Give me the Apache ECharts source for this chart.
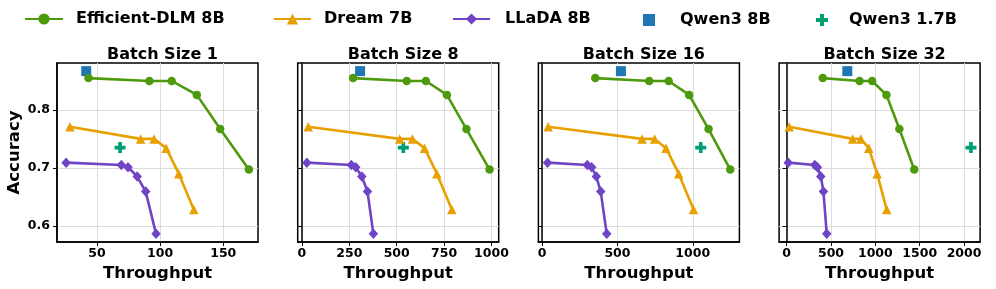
<!DOCTYPE html>
<html><head><meta charset="utf-8">
<script src="https://cdn.jsdelivr.net/npm/echarts@6/dist/echarts.min.js"></script>
<style>html,body{margin:0;padding:0;background:#fff}#c{width:996px;height:289px}</style>
</head><body><div id="c"></div>
<script>
// ---- data ----
const batchTitles = ['Batch Size 1', 'Batch Size 8', 'Batch Size 16', 'Batch Size 32'];
const seriesNames = ['Efficient-DLM 8B', 'Dream 7B', 'LLaDA 8B', 'Qwen3 8B', 'Qwen3 1.7B'];

// accuracy (same across batch sizes)
const accEfficient = [0.855, 0.850, 0.850, 0.826, 0.767, 0.697];
const accDream = [0.771, 0.750, 0.750, 0.734, 0.690, 0.628];
const accLLaDA = [0.709, 0.705, 0.701, 0.685, 0.659, 0.586];
const accQwen8 = [0.867];
const accQwen17 = [0.735];

// throughput per batch size
const thrEfficient = [
  [43.3, 91.5, 109.2, 129.1, 147.6, 170.3],
  [270, 553, 654, 765, 868, 990],
  [353, 711, 840, 976, 1105, 1249],
  [407, 822, 964, 1125, 1271, 1439]
];
const thrDream = [
  [28.6, 84.6, 95.2, 104.8, 114.8, 126.7],
  [33, 516, 583, 647, 712, 791],
  [40, 663, 747, 823, 907, 1005],
  [29, 744, 837, 926, 1020, 1128]
];
const thrLLaDA = [
  [25.6, 69.3, 74.6, 81.9, 88.6, 96.8],
  [26, 261, 284, 316, 346, 377],
  [36, 300, 329, 360, 389, 429],
  [18, 317, 347, 385, 415, 452]
];
const thrQwen8 = [[41.5], [307], [523], [684]];
const thrQwen17 = [[68.3], [535], [1053], [2078]];

// tick labels
const xTicks = [[50, 100, 150], [0, 250, 500, 750, 1000], [0, 500, 1000], [0, 500, 1000, 1500, 2000]];
const yTicks = [0.6, 0.7, 0.8];

// ---- style ----
const FONT = 'DejaVu Sans';
const colors = ['#4e9a0e', '#e8a000', '#6f45c6', '#1f77b4', '#009e73'];
const plusPath = 'path://M1,0H2V1H3V2H2V3H1V2H0V1H1Z';

function pair(xs, ys) { return xs.map((x, i) => [x, ys[i]]); }
function padRange(vals) {
  const mn = Math.min(...vals), mx = Math.max(...vals), d = (mx - mn) * 0.05;
  return [mn - d, mx + d];
}
const yRange = padRange([...accEfficient, ...accDream, ...accLLaDA, ...accQwen8, ...accQwen17]);

const grids = [], xAxes = [], yAxes = [], series = [], titles = [];
const GL = 57, GSTEP = 240.7, GW = 201, GT = 63, GH = 179;
for (let i = 0; i < 4; i++) {
  const left = GL + i * GSTEP;
  grids.push({ left: left, top: GT, width: GW, height: GH, show: true, borderColor: '#000', borderWidth: 1.5, outerBoundsMode: 'none' });
  titles.push({ text: batchTitles[i], left: left + GW / 2, top: 42, textAlign: 'center',
    textStyle: { fontFamily: FONT, fontWeight: 'bold', fontSize: 16, color: '#000' } });
  const xr = padRange([...thrEfficient[i], ...thrDream[i], ...thrLLaDA[i], ...thrQwen8[i], ...thrQwen17[i]]);
  xAxes.push({
    gridIndex: i, type: 'value', min: xr[0], max: xr[1],
    name: 'Throughput', nameLocation: 'middle', nameGap: 21,
    nameTextStyle: { fontFamily: FONT, fontWeight: 'bold', fontSize: 16.5, color: '#000' },
    axisLine: { show: true, lineStyle: { color: '#000', width: 1.5 } },
    axisTick: { show: true, length: 4, lineStyle: { color: '#000', width: 1 }, customValues: xTicks[i] },
    axisLabel: { customValues: xTicks[i], margin: 5, fontFamily: FONT, fontWeight: 'bold', fontSize: 12.5, color: '#000',
      formatter: v => String(Math.round(v)) },
    splitLine: { show: true, lineStyle: { color: '#dcdcdc', width: 1 } }
  });
  yAxes.push({
    gridIndex: i, type: 'value', min: yRange[0], max: yRange[1],
    name: i === 0 ? 'Accuracy' : '', nameLocation: 'middle', nameGap: 34, nameRotate: 90,
    nameTextStyle: { fontFamily: FONT, fontWeight: 'bold', fontSize: 16.5, color: '#000' },
    axisLine: { show: true, lineStyle: { color: '#000', width: 1.5 } },
    axisTick: { show: true, length: 4, lineStyle: { color: '#000', width: 1 }, customValues: yTicks },
    axisLabel: { show: i === 0, customValues: yTicks, margin: 7, fontFamily: FONT, fontWeight: 'bold', fontSize: 12.5, color: '#000',
      formatter: v => v.toFixed(1) },
    splitLine: { show: true, lineStyle: { color: '#dcdcdc', width: 1 } }
  });
  const lineCommon = { type: 'line', xAxisIndex: i, yAxisIndex: i, lineStyle: { width: 2.6 }, emphasis: { disabled: true }, animation: false };
  series.push(Object.assign({}, lineCommon, { name: seriesNames[0], data: pair(thrEfficient[i], accEfficient), symbol: 'circle', symbolSize: 8.5, color: colors[0] }));
  series.push(Object.assign({}, lineCommon, { name: seriesNames[1], data: pair(thrDream[i], accDream), symbol: 'triangle', symbolSize: 9.5, color: colors[1] }));
  series.push(Object.assign({}, lineCommon, { name: seriesNames[2], data: pair(thrLLaDA[i], accLLaDA), symbol: 'diamond', symbolSize: [9.5, 10.5], color: colors[2] }));
  series.push({ type: 'scatter', name: seriesNames[3], xAxisIndex: i, yAxisIndex: i, data: pair(thrQwen8[i], accQwen8), symbol: 'rect', symbolSize: 10, color: colors[3], itemStyle: { opacity: 1 }, emphasis: { disabled: true }, animation: false, z: 1 });
  series.push({ type: 'scatter', name: seriesNames[4], xAxisIndex: i, yAxisIndex: i, data: pair(thrQwen17[i], accQwen17), symbol: plusPath, symbolSize: 11, color: colors[4], itemStyle: { opacity: 1 }, emphasis: { disabled: true }, animation: false });
}

const legendLeft = [24, 273, 452, 643, 816];
const legendWidth = [38, 37, 37, 12, 12];
const legendHeight = [14, 14, 14, 12, 12];
const legendPad = [8, 8, 10, 20, 16];
const legends = seriesNames.map((n, k) => ({
  data: [n], left: legendLeft[k], top: 18 - legendHeight[k] / 2, itemWidth: legendWidth[k], itemHeight: legendHeight[k],
  padding: 0, selectedMode: false,
  itemStyle: { opacity: 1 },
  textStyle: { fontFamily: FONT, fontWeight: 'bold', fontSize: 16, color: '#000', padding: [0, 0, 0, legendPad[k]] }
}));

const chart = echarts.init(document.getElementById('c'), null, { renderer: 'canvas' });
chart.setOption({
  backgroundColor: '#fff', animation: false,
  title: titles, legend: legends, grid: grids, xAxis: xAxes, yAxis: yAxes, series: series
});
</script></body></html>
